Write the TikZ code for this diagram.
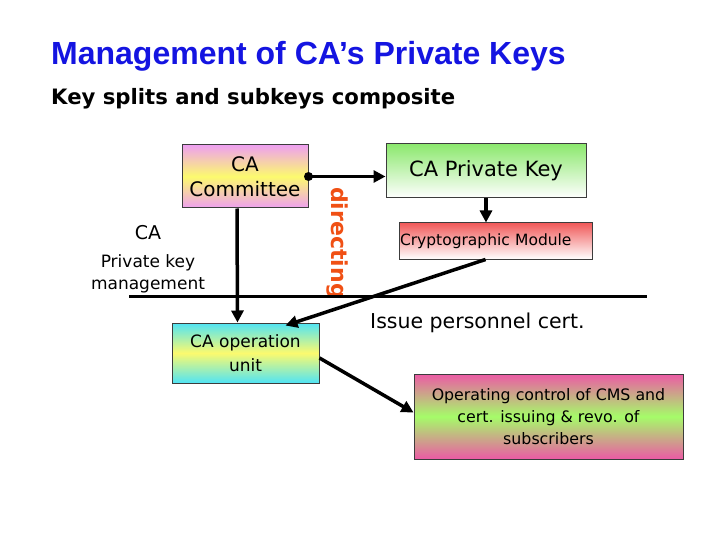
\documentclass[tikz,border=0pt]{standalone}
\usepackage{fontspec}
\setmainfont{DejaVu Sans}
\newfontfamily\titlefont{Liberation Sans}
\usetikzlibrary{arrows.meta}
\definecolor{TitleClr}{RGB}{20,20,225}
\definecolor{DirClr}{RGB}{240,80,20}
\definecolor{PinkClr}{RGB}{238,160,240}
\definecolor{YellowClr}{RGB}{252,250,110}
\definecolor{CyanClr}{RGB}{80,228,245}
\definecolor{RoseClr}{RGB}{236,90,165}
\definecolor{LimeClr}{RGB}{165,252,105}
\definecolor{GreenClr}{RGB}{140,232,110}
\definecolor{RedClr}{RGB}{240,90,90}
\definecolor{EdgeClr}{RGB}{60,60,60}

\begin{document}
\begin{tikzpicture}[x=1pt,y=-1pt,
  box/.style={draw=EdgeClr,line width=1pt,align=center,inner sep=0pt},
  conn/.style={line width=3.5pt,-{Triangle[length=12pt,width=12pt]}},
  lbl/.style={inner sep=0pt,font=\fontsize{17}{22}\selectfont}]
\useasboundingbox (0,0) rectangle (720,540);

\node[anchor=base west,inner sep=0pt,text=TitleClr,font=\titlefont\bfseries\fontsize{32}{36}\selectfont] (title) at (51,65) {Management of CA’s Private Keys};
\node[anchor=base west,inner sep=0pt,font=\bfseries\fontsize{21.2}{24}\selectfont] (subtitle) at (51,105) {Key splits and subkeys composite};

\node[box,minimum width=126,minimum height=63,top color=PinkClr,bottom color=PinkClr,middle color=YellowClr,font=\fontsize{20}{25}\selectfont] (committee) at (245,176.5) {CA\\Committee};
\node[box,minimum width=200,minimum height=54,top color=GreenClr,bottom color=white,font=\fontsize{21}{24}\selectfont] (privkey) at (486,171) {CA Private Key};
\node[box,minimum width=193,minimum height=36,top color=RedClr,bottom color=white,text width=191,align=left,inner xsep=1pt,font=\fontsize{15.5}{18}\selectfont] (crypto) at (495.5,241) {Cryptographic Module};
\node[box,minimum width=147,minimum height=60,top color=CyanClr,bottom color=CyanClr,middle color=YellowClr,font=\fontsize{17}{24}\selectfont] (opunit) at (245.5,353) {CA operation\\unit};
\node[box,minimum width=269,minimum height=85,top color=RoseClr,bottom color=RoseClr,middle color=LimeClr,font=\fontsize{15.8}{22}\selectfont] (control) at (548.5,416.5) {Operating control of CMS and\\cert. issuing \& revo. of\\subscribers};

\node[lbl,font=\fontsize{19}{22}\selectfont] (calabel) at (148,233) {CA};
\node[lbl,align=center] (pkm) at (148,274) {Private key\\management};
\node[lbl,anchor=west,font=\fontsize{20.5}{24}\selectfont] (issue) at (370,323) {Issue personnel cert.};
\node[inner sep=0pt,rotate=-90,text=DirClr,font=\bfseries\fontsize{22}{24}\selectfont] (directing) at (337,243) {directing};

\coordinate (ruleL) at (129,296);
\coordinate (ruleR) at (647,296);
\draw[line width=3pt] (ruleL) -- (ruleR);

\fill (committee.east) circle (4.5pt);
\draw[conn] (committee.east) -- (committee.east -| privkey.west);
\draw[conn] (privkey.south) -- (privkey.south |- crypto.north);
\draw[conn] ([xshift=-8pt]committee.south) -- ([xshift=-8pt]opunit.north);
\draw[conn] ([xshift=-10pt]crypto.south) -- ([xshift=40pt,yshift=-3pt]opunit.north);
\draw[conn] ([yshift=-5pt]opunit.east) -- ([yshift=4pt]control.west);
\end{tikzpicture}
\end{document}
